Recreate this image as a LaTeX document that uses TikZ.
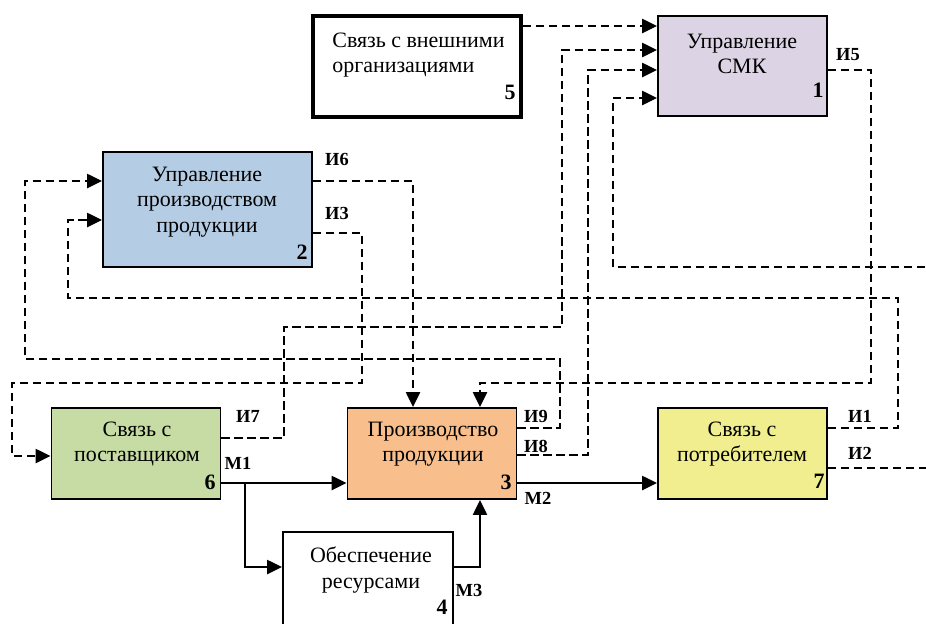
\documentclass[tikz,border=0pt]{standalone}
\usepackage{fontspec}
\setmainfont{Liberation Serif}
\usetikzlibrary{arrows.meta}

\definecolor{smkfill}{HTML}{DCD4E4}
\definecolor{prodfill}{HTML}{B5CDE4}
\definecolor{makefill}{HTML}{F8BF8D}
\definecolor{supfill}{HTML}{C7DBA4}
\definecolor{custfill}{HTML}{F0EE8E}

\begin{document}
\begin{tikzpicture}[x=0.02cm, y=-0.02cm, font=\fontsize{12.5}{14.5}\selectfont,
    blok/.style={draw, line width=1.1pt, minimum width=3.38cm, minimum height=1.82cm},
    txt/.style={align=center, inner sep=0pt},
    num/.style={font=\fontsize{12.5}{14}\selectfont\bfseries, inner sep=0pt},
    lbl/.style={font=\fontsize{10.5}{12}\selectfont\bfseries, inner sep=0pt},
    info/.style={line width=1.15pt, dash pattern=on 4.8pt off 2.6pt, -{Triangle[length=8.5pt,width=8pt]}},
    mat/.style={line width=1.15pt, -{Triangle[length=8.5pt,width=8pt]}}]
	\useasboundingbox (0,0) rectangle (926,623);
	% blocks
	\node[blok, line width=2.2pt, minimum width=4.16cm, minimum height=2.02cm] (b5) at (417,66.5) {};
	\node[txt, anchor=west, align=left] (t5) at (332,55) {Связь с внешними\\организациями};
	\node[num] (n5) at (510,92) {5};
	\node[blok, fill=smkfill, minimum height=2cm] (b1) at (742.5,66) {};
	\node[txt] (t1) at (742,54) {Управление\\СМК};
	\node[num] (n1) at (818,90) {1};
	\node[blok, fill=prodfill, minimum width=4.18cm, minimum height=2.3cm] (b2) at (207.5,209.5) {};
	\node[txt] (t2) at (207,202) {Управление\\производством\\продукции};
	\node[num] (n2) at (302,252) {2};
	\node[blok, fill=supfill] (b6) at (136,453.5) {};
	\node[txt] (t6) at (137,444) {Связь с\\поставщиком};
	\node[num] (n6) at (210,482) {6};
	\node[blok, fill=makefill] (b3) at (432,453.5) {};
	\node[txt] (t3) at (433,444) {Производство\\продукции};
	\node[num] (n3) at (506,482) {3};
	\node[blok, fill=custfill] (b7) at (742.5,453.5) {};
	\node[txt] (t7) at (742,444) {Связь с\\потребителем};
	\node[num] (n7) at (819,481) {7};
	\node[blok, minimum width=3.4cm, minimum height=2.2cm] (b4) at (368,587) {};
	\node[txt] (t4) at (371,570) {Обеспечение\\ресурсами};
	\node[num] (n4) at (442,607) {4};
	% information flows
	\draw[info] (b5.east |- 0,26) -- (b1.west |- 0,26);
	\draw[info] (b6.east |- 0,438) -| (284,327) -| (562,50) -- (b1.west |- 0,50);
	\draw[info] (b3.east |- 0,455) -| (588,70) -- (b1.west |- 0,70);
	\draw[info] (b7.east |- 0,468) -| (945,267) -| (613,98) -- (b1.west |- 0,98);
	\draw[info] (b1.east |- 0,70) -| (871,383) -| (b3.north -| 480,0);
	\draw[info] (b2.east |- 0,181) -| (b3.north -| 413,0);
	\draw[info] (b2.east |- 0,233) -| (362,383) -| (12,456) -- (b6.west |- 0,456);
	\draw[info] (b3.east |- 0,428) -| (560,359) -| (25,181) -- (b2.west |- 0,181);
	\draw[info] (b7.east |- 0,428) -| (898,298) -| (68,220) -- (b2.west |- 0,220);
	% material flows
	\coordinate (fork) at (245,483);
	\draw[mat] (b6.east |- 0,483) -- (b3.west |- 0,483);
	\draw[mat] (fork) |- (b4.west |- 0,567);
	\draw[mat] (b3.east |- 0,483) -- (b7.west |- 0,483);
	\draw[mat] (b4.east |- 0,567) -| (b3.south -| 480,0);
	% flow labels
	\node[lbl] (i6) at (337,159) {И6};
	\node[lbl] (i3) at (337,213) {И3};
	\node[lbl] (i5) at (848,55) {И5};
	\node[lbl] (i7) at (248,416) {И7};
	\node[lbl] (m1) at (238,463) {М1};
	\node[lbl] (i9) at (536,416) {И9};
	\node[lbl] (i8) at (536,446) {И8};
	\node[lbl] (m2) at (538,498) {М2};
	\node[lbl] (i1) at (860,416) {И1};
	\node[lbl] (i2) at (860,453) {И2};
	\node[lbl] (m3) at (469,590) {М3};
\end{tikzpicture}
\end{document}
